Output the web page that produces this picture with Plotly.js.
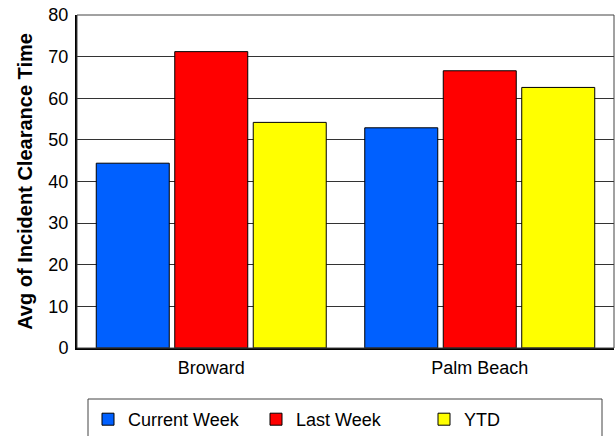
<!DOCTYPE html>
<html>
<head>
<meta charset="utf-8">
<script src="https://cdn.plot.ly/plotly-3.0.1.min.js"></script>
<style>html,body{margin:0;padding:0;background:#fff;}#chart{width:615px;height:436px;}</style>
</head>
<body>
<div id="chart"></div>
<script>
const categories = ["Broward", "Palm Beach"];
const seriesNames = ["Current Week", "Last Week", "YTD"];
const currentWeek = [44.4, 52.9];
const lastWeek = [71.2, 66.6];
const ytd = [54.2, 62.6];
const yTicks = [0, 10, 20, 30, 40, 50, 60, 70, 80];
const colors = ["#0060FF", "#FF0000", "#FFFF00"];

const font = "Liberation Sans, Arial, sans-serif";
const values = [currentWeek, lastWeek, ytd];
const traces = values.map((v, i) => ({
  type: "bar",
  name: seriesNames[i],
  x: categories,
  y: v,
  marker: {color: colors[i], line: {color: "#000", width: 1}},
  hoverinfo: "x+y+name"
}));

const L = 77, T = 15, B = 348, W = 537, H = 333;
const px2x = p => (p - L) / W;
const px2y = p => (B - p) / H;

const layout = {
  width: 615, height: 436,
  margin: {l: L, r: 1, t: T, b: 436 - B, autoexpand: false},
  paper_bgcolor: "#fff", plot_bgcolor: "#fff",
  barmode: "group", bargap: 0.123, bargroupgap: 0.07,
  font: {family: font, color: "#000", size: 18},
  xaxis: {
    showgrid: false, showline: true, linecolor: "#000", linewidth: 2,
    ticks: "", tickfont: {size: 18}, ticklabelstandoff: 2
  },
  yaxis: {
    range: [0, 80], tickvals: yTicks, ticktext: yTicks.map(String),
    showgrid: true, gridcolor: "#333", gridwidth: 1,
    showline: true, linecolor: "#000", linewidth: 2, zeroline: false,
    ticks: "", tickfont: {size: 18}, ticklabelstandoff: 3,
    title: {text: "Avg of Incident Clearance Time", font: {size: 20, family: font, weight: "bold"}, standoff: 10}
  },
  shapes: [
    {type: "rect", xref: "paper", yref: "paper", x0: 0, x1: 1, y0: 0, y1: 1, line: {color: "#444", width: 1}, layer: "above"},
    {type: "rect", xref: "paper", yref: "paper", x0: px2x(88), x1: px2x(602), y0: px2y(450), y1: px2y(399), line: {color: "#444", width: 1}, fillcolor: "rgba(0,0,0,0)"}
  ],
  legend: {
    orientation: "h", x: px2x(88), xanchor: "left", y: px2y(401), yanchor: "top",
    font: {size: 18}, entrywidth: 123, entrywidthmode: "pixels",
    bgcolor: "rgba(0,0,0,0)", borderwidth: 0, traceorder: "normal"
  },
  showlegend: true
};

Plotly.newPlot("chart", traces, layout, {displayModeBar: false, staticPlot: true});
</script>
</body>
</html>
